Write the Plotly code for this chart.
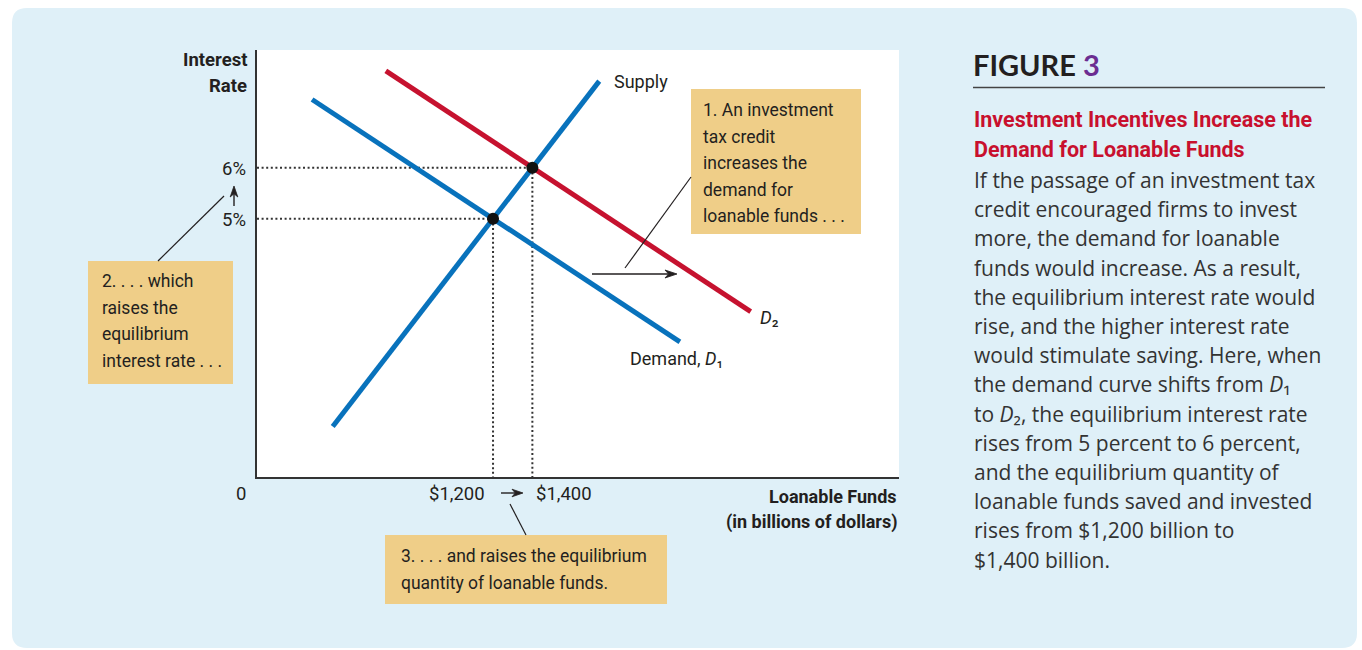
import math
import plotly.graph_objects as go

# Curves: quantity of loanable funds (billions of dollars) vs interest rate (percent)
supply_q = [385, 1740]
supply_r = [0.93, 7.70]
demand1_q = [280, 2150]
demand1_r = [7.34, 2.59]
demand2_q = [655, 2510]
demand2_r = [7.90, 3.18]

# Equilibria before and after the demand shift
eq_q = [1200, 1400]
eq_r = [5, 6]
eq_q_labels = ["$1,200", "$1,400"]
eq_r_labels = ["5%", "6%"]

# Canvas / plot-area geometry (pixels)
W, H = 1362, 650
L, R, T, B = 257, 899, 50, 477
X_MAX = 3264
Y_MIN, Y_MAX = -0.06, 8.31

BLUE = "#0872BC"
RED = "#C6122F"
INK = "#231F20"
BOX = "#EFCE88"
PANEL = "#DFF0F8"
COND = "Roboto, Liberation Sans Narrow, DejaVu Sans Condensed, sans-serif"
BODY = "Open Sans, Liberation Sans, Arial, sans-serif"
HEAD = "Lato, Inter, sans-serif"


def fx(px):
    return (px - L) / (R - L)


def fy(py):
    return (B - py) / (B - T)


fig = go.Figure()

# Dotted guide lines from each equilibrium to the axes
for q, r in zip(eq_q, eq_r):
    fig.add_trace(go.Scatter(x=[0, q], y=[r, r], mode="lines",
                             line=dict(color="#333", width=2, dash="2px,2.6px"),
                             hoverinfo="skip", showlegend=False))
    fig.add_trace(go.Scatter(x=[q, q], y=[r, Y_MIN], mode="lines",
                             line=dict(color="#333", width=2, dash="2px,2.6px"),
                             hoverinfo="skip", showlegend=False))

fig.add_trace(go.Scatter(x=demand1_q, y=demand1_r, mode="lines",
                         line=dict(color=BLUE, width=5), name="Demand, D1", showlegend=False))
fig.add_trace(go.Scatter(x=demand2_q, y=demand2_r, mode="lines",
                         line=dict(color=RED, width=5), name="D2", showlegend=False))
fig.add_trace(go.Scatter(x=supply_q, y=supply_r, mode="lines",
                         line=dict(color=BLUE, width=5), name="Supply", showlegend=False))
fig.add_trace(go.Scatter(x=eq_q, y=eq_r, mode="markers",
                         marker=dict(color="#111", size=12), showlegend=False))

shapes = []


def pt(x, y):
    return f"{fx(x):.5f},{fy(y):.5f}"


def rounded_path(x0, y0, x1, y1, r):
    return (f"M {pt(x0 + r, y0)} L {pt(x1 - r, y0)} Q {pt(x1, y0)} {pt(x1, y0 + r)} "
            f"L {pt(x1, y1 - r)} Q {pt(x1, y1)} {pt(x1 - r, y1)} "
            f"L {pt(x0 + r, y1)} Q {pt(x0, y1)} {pt(x0, y1 - r)} "
            f"L {pt(x0, y0 + r)} Q {pt(x0, y0)} {pt(x0 + r, y0)} Z")


# Light-blue panel and white plotting field
shapes.append(dict(type="path", xref="paper", yref="paper", layer="below",
                   path=rounded_path(12, 8, 1357, 648, 15),
                   fillcolor=PANEL, line=dict(width=0)))
shapes.append(dict(type="rect", xref="paper", yref="paper", layer="below",
                   x0=0, x1=1, y0=0, y1=1, fillcolor="white", line=dict(width=0)))


def box(x0, y0, x1, y1):
    shapes.append(dict(type="rect", xref="paper", yref="paper", layer="above",
                       x0=fx(x0), x1=fx(x1), y0=fy(y1), y1=fy(y0),
                       fillcolor=BOX, line=dict(width=0)))


def seg(x0, y0, x1, y1, color=INK, width=1.2):
    shapes.append(dict(type="line", xref="paper", yref="paper",
                       x0=fx(x0), y0=fy(y0), x1=fx(x1), y1=fy(y1),
                       line=dict(color=color, width=width)))


def arrow(x0, y0, x1, y1, head=11.0, half=3.8):
    """Line with a dart-shaped filled head at (x1, y1)."""
    d = math.hypot(x1 - x0, y1 - y0)
    ux, uy = (x1 - x0) / d, (y1 - y0) / d
    nx, ny = -uy, ux
    bx, by = x1 - head * ux, y1 - head * uy
    notch = (x1 - 0.7 * head * ux, y1 - 0.7 * head * uy)
    seg(x0, y0, notch[0], notch[1], width=1.4)
    shapes.append(dict(type="path", xref="paper", yref="paper",
                       path=(f"M {pt(x1, y1)} L {pt(bx + half * nx, by + half * ny)} "
                             f"L {pt(*notch)} L {pt(bx - half * nx, by - half * ny)} Z"),
                       fillcolor=INK, line=dict(color=INK, width=0.8)))


box(691, 89, 861, 234)
box(88, 261, 233, 384)
box(385, 535, 667, 604)

# Leader lines from the callouts
seg(625, 268, 691, 177)
seg(158, 261, 224, 196)
seg(510, 504, 526, 535)

# Shift arrows
arrow(592, 274, 677, 274, head=12, half=4)
arrow(234, 206, 234, 186)
arrow(501, 493, 523, 493)

# Rule under the figure number
seg(973, 87.5, 1325, 87.5, color="#444", width=1.6)

ann = []


def text(x, y, s, size, anchor="left", color=INK, family=COND, weight=400):
    ann.append(dict(xref="paper", yref="paper", x=fx(x), y=fy(y), text=s,
                    showarrow=False, xanchor=anchor, yanchor="middle",
                    font=dict(size=size, color=color, family=family, weight=weight)))


# Axis titles
text(249, 60, "Interest", 18.5, anchor="right", weight=700)
text(249, 86, "Rate", 18.5, anchor="right", weight=700)
text(899, 496, "Loanable Funds", 18, anchor="right", weight=700)
text(899, 522, "(in billions of dollars)", 18, anchor="right", weight=700)
text(241, 494, "0", 18.5, anchor="center")

# Equilibrium tick labels
for r, lab in zip(eq_r, eq_r_labels):
    ann.append(dict(xref="paper", yref="y", x=fx(248), y=r, text=lab, showarrow=False,
                    xanchor="right", yanchor="middle", yshift=-1,
                    font=dict(size=18.5, color=INK, family=COND)))
for q, lab, anc, sh in zip(eq_q, eq_q_labels, ["right", "left"], [-6, 2]):
    ann.append(dict(xref="x", yref="paper", x=q, y=fy(494), text=lab, showarrow=False,
                    xanchor=anc, yanchor="middle", xshift=sh,
                    font=dict(size=18.5, color=INK, family=COND)))

# Curve labels
text(612, 82, "Supply", 18)
text(758, 318, "<i>D</i>₂", 18.5)
text(628, 358, "Demand, <i>D</i>₁", 18)

# Callout texts
for i, s in enumerate(["1. An investment", "tax credit", "increases the",
                       "demand for", "loanable funds . . ."]):
    text(701, 110 + i * 26.5, s, 17.5)
for i, s in enumerate(["2. . . . which", "raises the", "equilibrium",
                       "interest rate . . ."]):
    text(100, 281 + i * 26.7, s, 17.5)
for i, s in enumerate(["3. . . . and raises the equilibrium",
                       "quantity of loanable funds."]):
    text(399, 556 + i * 26.5, s, 17.5)

# Caption block
text(971, 64, "FIGURE <span style='color:#6B2D91'>3</span>", 29,
     family=HEAD, weight=700)
text(972, 120, "Investment Incentives Increase the", 21.5, color="#C8102E", weight=700)
text(972, 149, "Demand for Loanable Funds", 21.5, color="#C8102E", weight=700)
body = [
    "If the passage of an investment tax",
    "credit encouraged firms to invest",
    "more, the demand for loanable",
    "funds would increase. As a result,",
    "the equilibrium interest rate would",
    "rise, and the higher interest rate",
    "would stimulate saving. Here, when",
    "the demand curve shifts from <i>D</i>₁",
    "to <i>D</i>₂, the equilibrium interest rate",
    "rises from 5 percent to 6 percent,",
    "and the equilibrium quantity of",
    "loanable funds saved and invested",
    "rises from $1,200 billion to",
    "$1,400 billion.",
]
for i, s in enumerate(body):
    text(972, 180 + i * 29.2, s, 21, color="#333", family=BODY)

fig.update_layout(
    width=W, height=H, autosize=False,
    margin=dict(l=L, r=W - R, t=T, b=H - B, pad=0),
    paper_bgcolor="white", plot_bgcolor="rgba(0,0,0,0)",
    xaxis=dict(range=[0, X_MAX], showgrid=False, zeroline=False, showticklabels=False,
               ticks="", showline=True, linecolor="#333", linewidth=1.6, fixedrange=True),
    yaxis=dict(range=[Y_MIN, Y_MAX], showgrid=False, zeroline=False, showticklabels=False,
               ticks="", showline=True, linecolor="#333", linewidth=1.6, fixedrange=True),
    shapes=shapes, annotations=ann, showlegend=False,
)

fig.write_html("out.html")
